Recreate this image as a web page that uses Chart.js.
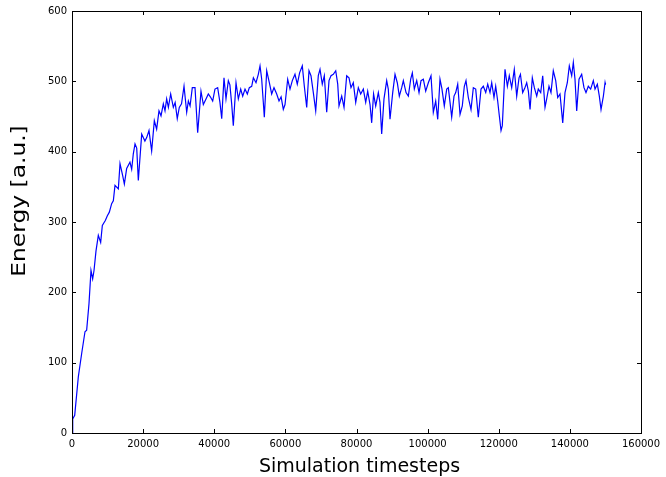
<!DOCTYPE html>
<html>
<head>
<meta charset="utf-8">
<script src="https://cdn.jsdelivr.net/npm/chart.js@4/dist/chart.umd.min.js"></script>
<style>
  html, body { margin: 0; padding: 0; background: #fff; }
  #wrap { width: 666px; height: 477px; }
</style>
</head>
<body>
<div id="wrap"><canvas id="c" width="666" height="477"></canvas></div>
<script>
const steps = [
  0, 200, 760, 1780, 2720, 3650, 4120, 4780, 5340, 5810, 6190, 6750, 7400, 8060, 8530, 9370, 9940,
  10500, 11150, 11620, 12090, 13030, 13500, 14250, 14720, 15370, 16300, 16780, 17240, 17720, 18200,
  18650, 19600, 20500, 21000, 21650, 22400, 23150, 23800, 24460, 25030, 25680, 26150, 26620, 27100,
  27750, 28490, 29000, 29600, 30170, 30800, 31500, 32250, 32720, 33200, 33830, 34590, 35340, 36270,
  36930, 37680, 38330, 38900, 39560, 40200, 40960, 41600, 42100, 42740, 43300, 43960, 44400, 44900,
  45360, 46120, 46770, 47440, 48000, 48650, 49300, 49860, 50530, 51000, 51740, 52390, 52870, 53340,
  53800, 54080, 54750, 55490, 56150, 56800, 57560, 58210, 58800, 59420, 59900, 60650, 61300, 61950,
  62700, 63350, 64000, 64760, 65330, 66000, 66640, 67200, 67860, 68530, 69260, 69740, 70380, 70950,
  71620, 72270, 72830, 73480, 74160, 74720, 75080, 75840, 76490, 77240, 77890, 78450, 79100, 79780,
  80510, 81180, 81920, 82590, 83150, 83800, 84270, 84800, 85400, 86140, 86600, 87080, 87730, 88490,
  88940, 89420, 90180, 90830, 91470, 92040, 92710, 93170, 93930, 94580, 95240, 95700, 96260, 96930,
  97580, 98140, 98790, 99460, 100200, 100950, 101600, 102270, 102840, 103480, 104000, 104690, 105370,
  105820, 106300, 106770, 107420, 107900, 108460, 109110, 109750, 110320, 110790, 111440, 112200,
  112850, 113520, 114250, 115010, 115660, 116340, 116900, 117540, 118020, 118660, 119140, 119700,
  120160, 120640, 121000, 121760, 122420, 122960, 123640, 124370, 125050, 125700, 126100, 126730,
  127300, 127860, 128330, 128800, 129440, 130010, 130680, 131120, 131800, 132360, 133010, 133480,
  134130, 134690, 135340, 136020, 136580, 137220, 137990, 138630, 139280, 139840, 140510, 140970,
  141440, 141920, 142570, 143320, 143970, 144530, 145180, 145850, 146590, 147070, 147720, 148280,
  148760, 149420, 149890, 150000
];
const energy = [
  0, 20, 25, 80, 113, 144, 146, 184, 231, 219, 231, 259, 281, 271, 295, 302, 309,
  314, 326, 330, 352, 347, 383, 366, 354, 376, 385, 375, 397, 411, 405,
  359, 425, 415, 420, 430, 401, 444, 432, 458, 451, 468, 458, 475, 463,
  482, 463, 470, 447, 463, 468, 493, 456, 472, 465, 491, 491, 427, 486,
  467, 475, 482, 478, 472, 489, 491, 470, 447, 505, 475, 501, 495, 468,
  437, 498, 475, 489, 479, 489, 482, 491, 493, 505, 498, 510, 522, 503,
  470, 449, 515, 498, 482, 491, 482, 472, 478, 460, 467, 503, 489, 501,
  510, 496, 512, 522, 493, 463, 515, 508, 484, 458, 508, 517, 496, 508,
  456, 501, 508, 510, 515, 496, 465, 479, 463, 508, 505, 491, 498, 470,
  491, 482, 489, 470, 486, 467, 441, 482, 465, 484, 470, 425, 475, 501,
  489, 446, 484, 510, 498, 479, 491, 501, 484, 479, 503, 512, 489, 501,
  484, 501, 503, 486, 498, 508, 456, 472, 446, 503, 490, 465, 489,
  491, 470, 449, 479, 484, 496, 453, 465, 493, 501, 477, 460,
  491, 489, 449, 489, 493, 484, 496, 484, 498, 477, 493, 472,
  451, 430, 437, 517, 493, 508, 491, 517, 479, 505, 510, 484,
  490, 498, 486, 460, 505, 491, 479, 489, 484, 508, 463, 475,
  493, 484, 515, 501, 477, 482, 441, 484, 498, 522, 508, 527,
  503, 458, 503, 510, 491, 484, 493, 489, 501, 489, 496, 479,
  460, 479, 498, 495
];
const xTicks = [0, 20000, 40000, 60000, 80000, 100000, 120000, 140000, 160000];
const yTicks = [0, 100, 200, 300, 400, 500, 600];
const xTitle = 'Simulation timesteps';
const yTitle = 'Energy [a.u.]';

const points = steps.map((s, i) => ({ x: s, y: energy[i] }));

const frameTicks = {
  id: 'frameTicks',
  afterDatasetsDraw(chart) {
    const { ctx, chartArea: a, scales } = chart;
    ctx.save();
    ctx.strokeStyle = '#000';
    ctx.lineWidth = 1;
    ctx.beginPath();
    xTicks.forEach(v => {
      const px = Math.round(scales.x.getPixelForValue(v)) + 0.5;
      ctx.moveTo(px, a.bottom); ctx.lineTo(px, a.bottom - 4);
      ctx.moveTo(px, a.top); ctx.lineTo(px, a.top + 4);
    });
    yTicks.forEach(v => {
      const py = Math.round(scales.y.getPixelForValue(v)) + 0.5;
      ctx.moveTo(a.left, py); ctx.lineTo(a.left + 4, py);
      ctx.moveTo(a.right, py); ctx.lineTo(a.right - 4, py);
    });
    ctx.stroke();
    ctx.strokeRect(Math.round(a.left) + 0.5, Math.round(a.top) + 0.5,
                   Math.round(a.right - a.left), Math.round(a.bottom - a.top));
    ctx.restore();
  },
  afterDraw(chart) {
    const { ctx, chartArea: a } = chart;
    ctx.save();
    ctx.fillStyle = '#000';
    ctx.font = '19px "DejaVu Sans"';
    ctx.textAlign = 'center';
    ctx.textBaseline = 'alphabetic';
    ctx.fillText(xTitle, (a.left + a.right) / 2 + 3, 472);
    ctx.translate(25, 201);
    ctx.rotate(-Math.PI / 2);
    ctx.scale(1.23, 1);
    ctx.fillText(yTitle, 0, 0);
    ctx.restore();
  }
};

new Chart(document.getElementById('c'), {
  type: 'line',
  data: {
    datasets: [{
      data: points,
      borderColor: '#0000ff',
      borderWidth: 1.2,
      pointRadius: 0,
      tension: 0,
      fill: false
    }]
  },
  options: {
    responsive: false,
    animation: false,
    events: [],
    layout: { padding: { left: 0, right: 25, top: 10, bottom: 0 } },
    plugins: { legend: { display: false }, tooltip: { enabled: false } },
    scales: {
      x: {
        type: 'linear',
        min: 0, max: 160000,
        afterBuildTicks: s => { s.ticks = xTicks.map(v => ({ value: v })); },
        afterFit: s => { s.height = 44; },
        grid: { display: false, drawTicks: false },
        border: { display: false },
        ticks: {
          padding: 5,
          color: '#000',
          font: { family: 'DejaVu Sans', size: 10 },
          maxRotation: 0,
          autoSkip: false,
          callback: v => String(v)
        },
        title: { display: false }
      },
      y: {
        type: 'linear',
        min: 0, max: 600,
        afterBuildTicks: s => { s.ticks = yTicks.map(v => ({ value: v })); },
        afterFit: s => { s.width = 72; },
        grid: { display: false, drawTicks: false },
        border: { display: false },
        ticks: {
          padding: 5,
          color: '#000',
          font: { family: 'DejaVu Sans', size: 10 },
          autoSkip: false,
          callback: v => String(v)
        },
        title: { display: false }
      }
    }
  },
  plugins: [frameTicks]
});
</script>
</body>
</html>
